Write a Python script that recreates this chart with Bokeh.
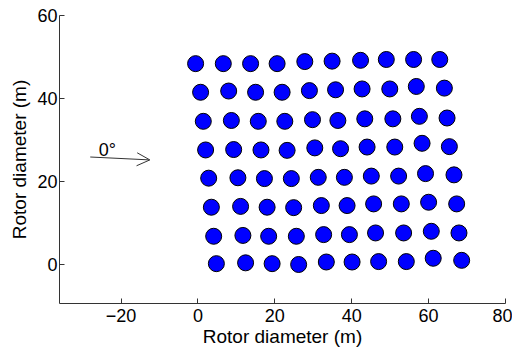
from bokeh.plotting import figure
from bokeh.models import Arrow, OpenHead, Label, FixedTicker
from bokeh.embed import file_html
from bokeh.resources import INLINE

# Turbine positions (m), 8 rows x 10 columns
turbine_x = [
    4.8, 12.4, 19.3, 26.2, 33.4, 40.1, 47.0, 54.2, 61.2, 68.6,
    4.1, 11.7, 18.4, 25.6, 32.7, 39.4, 46.2, 53.5, 60.7, 67.9,
    3.5, 11.1, 18.0, 24.9, 32.1, 38.8, 45.7, 52.9, 60.0, 67.3,
    2.8, 10.4, 17.3, 24.3, 31.3, 38.1, 45.1, 52.2, 59.2, 66.6,
    2.0, 9.3, 16.4, 23.2, 30.4, 37.1, 44.0, 51.2, 58.3, 65.4,
    1.4, 8.7, 15.7, 22.6, 29.8, 36.4, 43.4, 50.7, 57.6, 64.8,
    0.7, 8.0, 15.0, 21.9, 29.0, 35.8, 42.7, 49.9, 56.8, 64.1,
    -0.6, 6.6, 13.7, 20.6, 27.8, 34.9, 42.3, 49.0, 56.1, 62.9,
]
turbine_y = [
    0.2, 0.4, 0.2, 0.0, 0.6, 0.6, 0.7, 0.7, 1.5, 1.0,
    6.8, 7.0, 6.8, 6.8, 7.2, 7.2, 7.6, 7.6, 8.0, 7.6,
    13.8, 14.0, 13.8, 13.7, 14.2, 14.2, 14.6, 14.6, 15.0, 14.6,
    20.8, 20.9, 20.7, 20.7, 21.0, 21.0, 21.3, 21.3, 21.9, 21.6,
    27.6, 27.7, 27.6, 27.5, 28.1, 27.9, 28.3, 28.3, 29.2, 28.4,
    34.5, 34.7, 34.5, 34.5, 34.9, 34.7, 35.1, 35.1, 35.7, 35.3,
    41.5, 41.8, 41.5, 41.5, 41.9, 42.1, 42.3, 42.3, 42.9, 42.5,
    48.4, 48.4, 48.4, 48.4, 48.9, 49.0, 49.2, 49.4, 49.4, 49.4,
]

x_ticks = [-20, 0, 20, 40, 60, 80]
y_ticks = [0, 20, 40, 60]

# wind direction arrow
wind_label = "0°"
arrow_start = (-28.0, 25.9)
arrow_end = (-12.5, 25.2)
label_pos = (-25.8, 27.6)

FONT = "Liberation Sans"
AX = "#333333"

p = figure(width=512, height=353, x_range=(-36, 80), y_range=(-9.4, 60),
           output_backend="svg", toolbar_location=None,
           min_border_left=59, min_border_right=7, min_border_top=15,
           min_border_bottom=50)
p.outline_line_color = None
p.grid.visible = False
p.background_fill_color = "white"
p.border_fill_color = "white"

p.scatter(turbine_x, turbine_y, size=16, fill_color="#0000FF",
          line_color="black", line_width=1)

p.add_layout(Arrow(end=OpenHead(size=13, line_color=AX, line_width=1),
                   x_start=arrow_start[0], y_start=arrow_start[1],
                   x_end=arrow_end[0], y_end=arrow_end[1],
                   line_color=AX, line_width=1))
p.add_layout(Label(x=label_pos[0], y=label_pos[1], text=wind_label,
                   text_font=FONT, text_font_size="18px", text_color="black",
                   text_baseline="alphabetic"))

for ax, ticks in ((p.xaxis, x_ticks), (p.yaxis, y_ticks)):
    ax.ticker = FixedTicker(ticks=ticks)
    ax.minor_tick_line_color = None
    ax.major_tick_in = 5
    ax.major_tick_out = 0
    ax.axis_line_color = AX
    ax.major_tick_line_color = AX
    ax.major_label_text_font = FONT
    ax.major_label_text_font_size = "18px"
    ax.major_label_text_color = "black"
    ax.axis_label = "Rotor diameter (m)"
    ax.axis_label_text_font = FONT
    ax.axis_label_text_font_size = "19px"
    ax.axis_label_text_font_style = "normal"
    ax.axis_label_text_color = "black"

p.xaxis.major_label_standoff = 5
p.xaxis.axis_label_standoff = 1
p.yaxis.major_label_standoff = 2
p.yaxis.axis_label_standoff = 4

open("out.html", "w").write(file_html(p, INLINE))
